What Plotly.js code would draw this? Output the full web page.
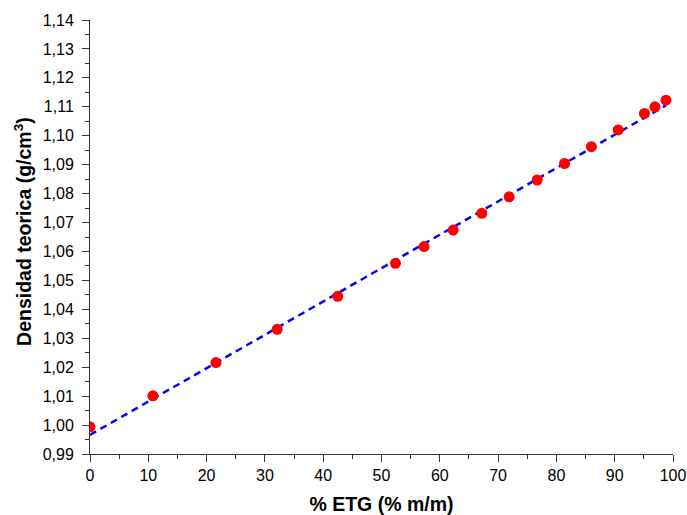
<!DOCTYPE html>
<html>
<head>
<meta charset="utf-8">
<script src="https://cdn.plot.ly/plotly-3.0.1.min.js"></script>
<style>html,body{margin:0;padding:0;background:#fff;}#chart{width:687px;height:515px;}</style>
</head>
<body>
<div id="chart"></div>
<script>
var etg = [0, 10.8, 21.6, 32.1, 42.5, 52.4, 57.3, 62.3, 67.2, 71.9, 76.7, 81.4, 86.0, 90.6, 95.1, 96.9, 98.8];
var densidad = [0.9994, 1.0101, 1.0216, 1.0331, 1.0445, 1.0559, 1.0617, 1.0674, 1.0732, 1.0789, 1.0847, 1.0904, 1.0962, 1.1020, 1.1077, 1.1100, 1.1123];
var fitX = [0, 98.8];
var fitY = [0.9966, 1.1105];

var font = "Arial, 'Liberation Sans', sans-serif";
var data = [
  {x: fitX, y: fitY, mode: 'lines', type: 'scatter',
   line: {color: '#0000ff', width: 2.5, dash: '7px,5px'}, hoverinfo: 'skip'},
  {x: etg, y: densidad, mode: 'markers', type: 'scatter',
   marker: {color: '#ff0000', size: 11, line: {width: 0}}}
];
var axisCommon = {
  showgrid: false, zeroline: false, showline: true, linecolor: '#333', linewidth: 1,
  ticks: 'outside', ticklen: 7, tickwidth: 1, tickcolor: '#333',
  tickfont: {family: font, size: 16, color: '#000'}
};
var layout = {
  width: 687, height: 515,
  margin: {l: 90, r: 14, t: 20, b: 61},
  paper_bgcolor: '#fff', plot_bgcolor: '#fff',
  showlegend: false,
  separators: ',.',
  xaxis: Object.assign({}, axisCommon, {
    range: [0, 100], dtick: 10, tick0: 0,
    minor: {dtick: 5, ticks: 'outside', ticklen: 4, tickcolor: '#333', tickwidth: 1},
    title: {text: '<b>% ETG (% m/m)</b>', font: {family: font, size: 19.5, color: '#000'}, standoff: 16}
  }),
  yaxis: Object.assign({}, axisCommon, {
    range: [0.99, 1.14], dtick: 0.01, tick0: 0.99, tickformat: '.2f',
    ticklabelstandoff: 5,
    minor: {dtick: 0.005, ticks: 'outside', ticklen: 4, tickcolor: '#333', tickwidth: 1},
    title: {text: '<b>&nbsp;&nbsp;Densidad teorica (g/cm<sup>3</sup>)</b>', font: {family: font, size: 19.5, color: '#000'}, standoff: 5}
  })
};
Plotly.newPlot('chart', data, layout, {displayModeBar: false, staticPlot: true});
</script>
</body>
</html>
